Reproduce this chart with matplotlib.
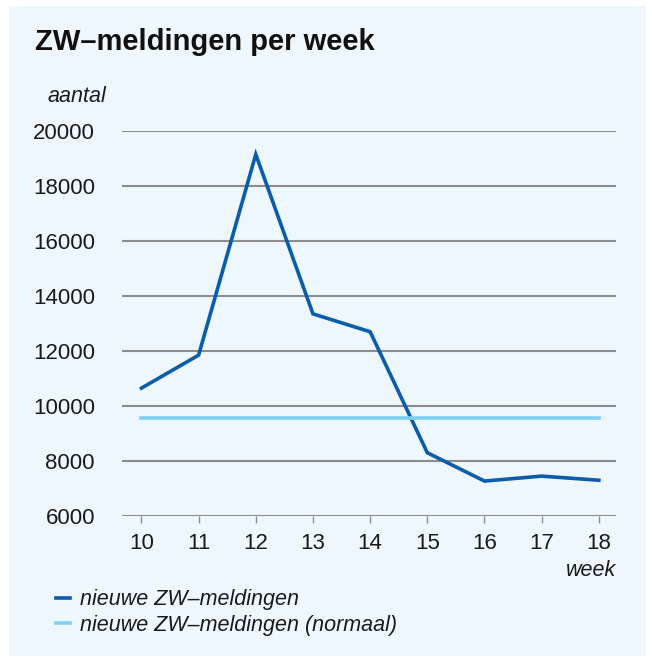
import matplotlib
matplotlib.use("Agg")
import matplotlib.pyplot as plt
from matplotlib.patches import Rectangle

weeks = [10, 11, 12, 13, 14, 15, 16, 17, 18]
nieuwe = [10650, 11850, 19150, 13350, 12700, 8300, 7270, 7450, 7300]
normaal = [9560] * len(weeks)
yticks = [6000, 8000, 10000, 12000, 14000, 16000, 18000, 20000]

plt.rcParams['font.family'] = ['Liberation Sans', 'DejaVu Sans']

W, H = 652, 662
fig = plt.figure(figsize=(W / 100, H / 100), dpi=100)
fig.patch.set_facecolor('white')
bg = '#eef7fd'
fig.patches.append(Rectangle((9 / W, 1 - 656 / H), (646 - 9) / W, (656 - 6) / H,
                             transform=fig.transFigure, facecolor=bg, edgecolor='none', zorder=-5))

ax = fig.add_axes([122 / W, 1 - 516 / H, (616 - 122) / W, (516 - 131) / H])
ax.set_zorder(2)
ax.set_facecolor('none')
ax.set_xlim(9.66, 18.3)
ax.set_ylim(6000, 20000)
for s in ax.spines.values():
    s.set_visible(False)
ax.set_yticks(yticks)
ax.set_yticklabels([str(v) for v in yticks])
ax.set_xticks(weeks)
ax.set_xticklabels([str(w) for w in weeks])
ax.yaxis.grid(True, color='#8c8c8c', linewidth=1.5)
ax.set_axisbelow(True)
ax.tick_params(axis='y', length=0, pad=19.5, labelsize=16, labelcolor='#1a1a1a')
ax.tick_params(axis='x', length=5, width=1, color='#8c8c8c', pad=7, labelsize=16, labelcolor='#1a1a1a')

l1, = ax.plot(weeks, nieuwe, color='#0b5cab', linewidth=2.6, clip_on=False, solid_joinstyle='miter',
              label='nieuwe ZW\u2013meldingen')
l2, = ax.plot(weeks, normaal, color='#7fd0f5', linewidth=2.6, clip_on=False,
              label='nieuwe ZW\u2013meldingen (normaal)')

fig.text(35 / W, 1 - 42 / H, 'ZW\u2013meldingen per week', fontsize=21, fontweight='bold',
         va='center', ha='left', color='#111111')
fig.text(48 / W, 1 - 97 / H, 'aantal', fontsize=15.5, style='italic', va='center', ha='left', color='#1a1a1a')
fig.text(616 / W, 1 - 570 / H, 'week', fontsize=15.5, style='italic', va='center', ha='right', color='#1a1a1a')

leg = fig.legend(handles=[l1, l2], loc='upper left', bbox_to_anchor=(37 / W, 1 - 570 / H),
                 frameon=False, handlelength=0.62, handletextpad=0.5, labelspacing=0.2,
                 prop={'style': 'italic', 'size': 15.5})
for t in leg.get_texts():
    t.set_color('#1a1a1a')

fig.savefig('out.png', dpi=100, facecolor=fig.get_facecolor())
